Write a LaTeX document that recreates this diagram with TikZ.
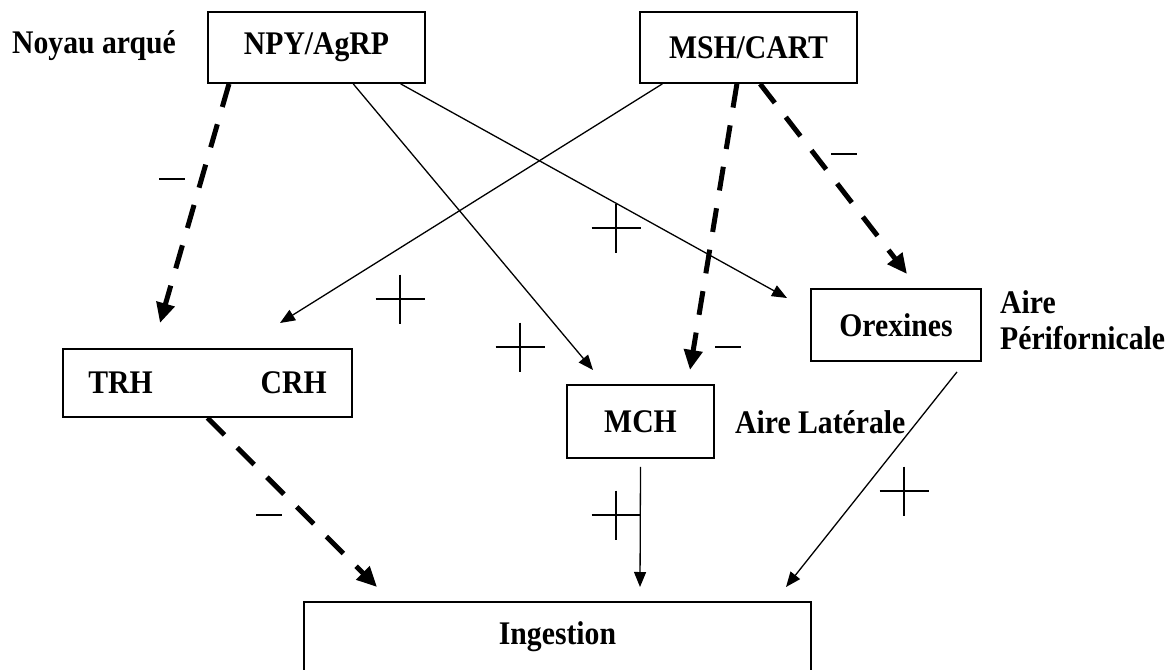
\documentclass[tikz,border=0pt]{standalone}
\usepackage{fontspec}
\setmainfont{Liberation Serif}[FakeStretch=0.9]
\usetikzlibrary{arrows.meta, calc}
\tikzset{
    >={Triangle[length=15pt, width=12pt]},
    box/.style={draw, line width=1.8pt, inner sep=0pt, font=\bfseries\fontsize{33}{38}\selectfont},
    area/.style={font=\bfseries\fontsize{33}{36}\selectfont, align=left, inner sep=0pt},
    excite/.style={->, line width=1.3pt},
    inhibit/.style={-{Triangle[length=20pt, width=18pt]}, line width=5pt, dash pattern=on 24pt off 18pt},
    sign/.style={line width=1.3pt},
    plussign/.pic={\draw[sign] (-24.5,0) -- (24.5,0) (0,-24.5) -- (0,24.5);},
    minussign/.pic={\draw[sign] (-13,0) -- (13,0);}
}

\begin{document}
\begin{tikzpicture}[x=1pt, y=-1pt]

    \useasboundingbox (0,0) rectangle (1169,669);
    \clip (0,0) rectangle (1169,669);

    % boxes
    \node[box, minimum width=217pt, minimum height=71pt] (npy) at (316.5,47.5) {NPY/AgRP};
    \node[box, minimum width=217pt, minimum height=71pt] (msh) at (748.5,47.5) {MSH/CART};
    \node[box, minimum width=289pt, minimum height=68pt] (trh) at (207.5,383) {TRH\hspace{108pt}CRH};
    \node[box, minimum width=147pt, minimum height=73pt] (mch) at (640.5,421.5) {MCH};
    \node[box, minimum width=170pt, minimum height=72pt] (orx) at (896,325) {Orexines};
    \node[box, minimum width=507pt, text height=42pt, text depth=40pt, anchor=base] (ing) at (557.5,644) {Ingestion};

    % areas
    \node[area, anchor=base west] (arc) at (12,54) {Noyau arqué};
    \node[area, anchor=base west] (lat) at (735,433) {Aire Latérale};
    \node[area, anchor=west] (pfa) at (1000,320.5) {Aire\\Périfornicale};

    % free ends
    \coordinate (tip trh a) at (160,323);
    \coordinate (tip trh b) at (280,323);
    \coordinate (tip mch a) at (593,370);
    \coordinate (tip mch b) at (690,370);
    \coordinate (tip orx a) at (787,298);
    \coordinate (tip orx b) at (907,274);
    \coordinate (tip ing a) at (377,587);
    \coordinate (tip ing b) at (640,587);
    \coordinate (tip ing c) at (786,587);

    \draw[inhibit] ($(npy.south west)!0.10!(npy.south east)$) -- (tip trh a);
    \draw[excite] ($(npy.south west)!0.668!(npy.south east)$) -- (tip mch a);
    \draw[excite] ($(npy.south west)!0.885!(npy.south east)$) -- (tip orx a);

    \draw[excite] ($(msh.south west)!0.106!(msh.south east)$) -- (tip trh b);
    \draw[inhibit] ($(msh.south west)!0.447!(msh.south east)$) -- (tip mch b);
    \draw[inhibit] ($(msh.south west)!0.553!(msh.south east)$) -- (tip orx b);

    \draw[inhibit] (trh.south) -- (tip ing a);
    \draw[excite] ([yshift=-8pt]mch.south) -- (tip ing b);
    \draw[excite] ([xshift=61pt, yshift=-10pt]orx.south) -- (tip ing c);

    % signs
    \pic at (172,179) {minussign};
    \pic at (844,154) {minussign};
    \pic at (728,347) {minussign};
    \pic at (269,515) {minussign};
    \pic at (616,228) {plussign};
    \pic at (400,299) {plussign};
    \pic at (520,347) {plussign};
    \pic at (616,515) {plussign};
    \pic at (904,491) {plussign};

\end{tikzpicture}
\end{document}
